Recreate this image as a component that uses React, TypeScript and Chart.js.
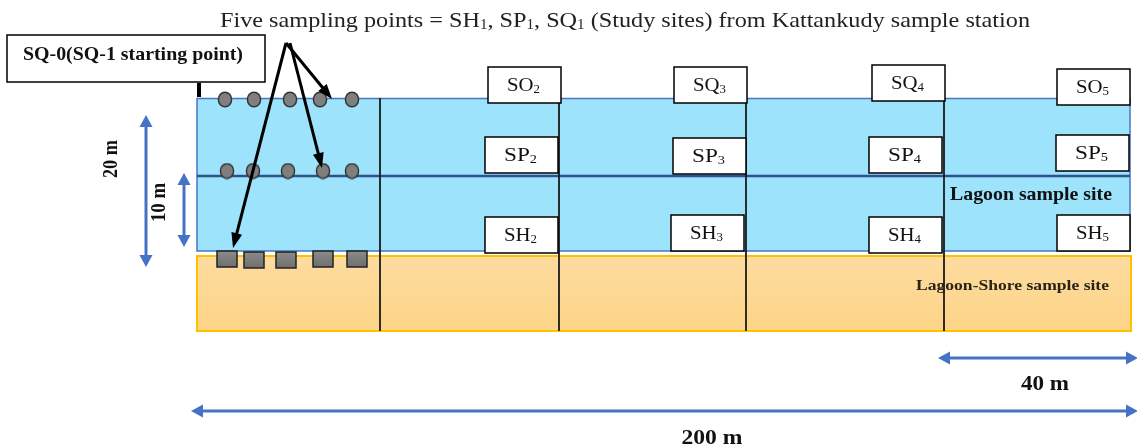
import React, { useEffect, useRef } from "react";
import { Chart, registerables } from "chart.js";

Chart.register(...registerables);

type Seg = [string, boolean];

// ---------- data ----------
const titleSegments: Seg[] = [
  ["Five sampling points = SH", false],
  ["1", true],
  [", SP", false],
  ["1", true],
  [", SQ", false],
  ["1", true],
  [" (Study sites) from Kattankudy sample station", false],
];
const startLabel = "SQ-0(SQ-1 starting point)";
const lagoonLabel = "Lagoon sample site";
const shoreLabel = "Lagoon-Shore sample site";
const dimensionLabels = ["20 m", "10 m", "40 m", "200 m"];

const stationNumbers = ["2", "3", "4", "5"];
const upperCodes = ["SO", "SQ", "SQ", "SO"];
const middleCodes = ["SP", "SP", "SP", "SP"];
const lowerCodes = ["SH", "SH", "SH", "SH"];

const upperBoxX = [488, 674, 872, 1057];
const upperBoxY = [67, 67, 65, 69];
const middleBoxX = [485, 673, 869, 1056];
const middleBoxY = [137, 138, 137, 135];
const lowerBoxX = [485, 671, 869, 1057];
const lowerBoxY = [217, 215, 217, 215];

const dividerX = [380, 559, 746, 944];
const dividerTop = [98, 102, 98, 101];

const surfacePointsX = [225, 254, 290, 320, 352];
const surfacePointsY = [99.5, 99.5, 99.5, 99.5, 99.5];
const midPointsX = [227, 253, 288, 323, 352];
const midPointsY = [171, 171, 171, 171, 171];
const shorePointsX = [227, 254, 286, 323, 357];
const shorePointsY = [259, 260, 260, 259, 259];

// pointer arrows: [fromX, fromY, toX, toY]
const pointerArrows = [
  [286, 43, 332, 99],
  [290, 43, 322, 168],
  [286, 43, 233, 248],
];
// dimension arrows: [x1, y1, x2, y2]
const dimensionArrows = [
  [146, 115, 146, 267],
  [184, 173, 184, 247],
  [938, 358, 1138, 358],
  [191, 411, 1138, 411],
];

const W = 1137;
const H = 448;
const SERIF = '"Liberation Serif", "Times New Roman", serif';

function richWidth(ctx: CanvasRenderingContext2D, segs: Seg[], size: number, weight: string) {
  let w = 0;
  for (const [t, sub] of segs) {
    ctx.font = `${weight} ${sub ? size * 0.62 : size}px ${SERIF}`;
    w += ctx.measureText(t).width;
  }
  return w;
}

function drawRich(
  ctx: CanvasRenderingContext2D,
  segs: Seg[],
  cx: number,
  by: number,
  size: number,
  weight: string,
  targetW?: number,
  rot = 0,
  color = "#111"
) {
  const total = richWidth(ctx, segs, size, weight);
  const sx = targetW ? targetW / total : 1;
  ctx.save();
  ctx.translate(cx, by);
  if (rot) ctx.rotate(rot);
  ctx.scale(sx, 1);
  ctx.fillStyle = color;
  ctx.textBaseline = "alphabetic";
  ctx.textAlign = "left";
  let x = -total / 2;
  for (const [t, sub] of segs) {
    ctx.font = `${weight} ${sub ? size * 0.62 : size}px ${SERIF}`;
    ctx.fillText(t, x, sub ? size * 0.1 : 0);
    x += ctx.measureText(t).width;
  }
  ctx.restore();
}

function head(
  ctx: CanvasRenderingContext2D,
  x1: number, y1: number, x2: number, y2: number,
  len: number, wid: number
) {
  const a = Math.atan2(y2 - y1, x2 - x1);
  const bx = x2 - len * Math.cos(a);
  const by = y2 - len * Math.sin(a);
  const nx = -Math.sin(a) * wid / 2;
  const ny = Math.cos(a) * wid / 2;
  ctx.beginPath();
  ctx.moveTo(x2, y2);
  ctx.lineTo(bx + nx, by + ny);
  ctx.lineTo(bx - nx, by - ny);
  ctx.closePath();
  ctx.fill();
}

function arrow(
  ctx: CanvasRenderingContext2D,
  x1: number, y1: number, x2: number, y2: number,
  color: string, lw: number, len: number, wid: number, both: boolean
) {
  const a = Math.atan2(y2 - y1, x2 - x1);
  const ex = x2 - (len - 2) * Math.cos(a);
  const ey = y2 - (len - 2) * Math.sin(a);
  const sx = both ? x1 + (len - 2) * Math.cos(a) : x1;
  const sy = both ? y1 + (len - 2) * Math.sin(a) : y1;
  ctx.save();
  ctx.strokeStyle = color;
  ctx.fillStyle = color;
  ctx.lineWidth = lw;
  ctx.lineCap = "butt";
  ctx.beginPath();
  ctx.moveTo(sx, sy);
  ctx.lineTo(ex, ey);
  ctx.stroke();
  head(ctx, x1, y1, x2, y2, len, wid);
  if (both) head(ctx, x2, y2, x1, y1, len, wid);
  ctx.restore();
}

function makeCircle() {
  const c = document.createElement("canvas");
  c.width = 16;
  c.height = 17;
  const g = c.getContext("2d")!;
  g.beginPath();
  g.ellipse(8, 8.5, 6.6, 7.3, 0, 0, Math.PI * 2);
  g.fillStyle = "#7f7f7f";
  g.fill();
  g.lineWidth = 1.4;
  g.strokeStyle = "#333";
  g.stroke();
  return c;
}

function makeSquare() {
  const c = document.createElement("canvas");
  c.width = 22;
  c.height = 18;
  const g = c.getContext("2d")!;
  const gr = g.createLinearGradient(0, 1, 0, 17);
  gr.addColorStop(0, "#8a8a8a");
  gr.addColorStop(1, "#6f6f6f");
  g.fillStyle = gr;
  g.fillRect(1, 1, 20, 16);
  g.lineWidth = 1.5;
  g.strokeStyle = "#222";
  g.strokeRect(1, 1, 20, 16);
  return c;
}

export default function App() {
  const ref = useRef<HTMLCanvasElement>(null);

  useEffect(() => {
    document.body.style.margin = "0";
    const canvas = ref.current!;

    const diagram = {
      id: "diagram",
      beforeDatasetsDraw(chart: any) {
        const ctx: CanvasRenderingContext2D = chart.ctx;
        const px = (v: number) => chart.scales.x.getPixelForValue(v);
        const py = (v: number) => chart.scales.y.getPixelForValue(v);
        ctx.save();
        // lagoon
        ctx.fillStyle = "#9de3fb";
        ctx.fillRect(px(197), py(98.5), px(1130) - px(197), py(251) - py(98.5));
        ctx.strokeStyle = "#4a76c4";
        ctx.lineWidth = 1.5;
        ctx.strokeRect(px(197), py(98.5), px(1130) - px(197), py(251) - py(98.5));
        // middle line
        ctx.strokeStyle = "#2f528f";
        ctx.lineWidth = 2.5;
        ctx.beginPath();
        ctx.moveTo(px(197), py(176));
        ctx.lineTo(px(1130), py(176));
        ctx.stroke();
        // shore
        const gr = ctx.createLinearGradient(0, py(256), 0, py(331));
        gr.addColorStop(0, "#fddca0");
        gr.addColorStop(1, "#fdd486");
        ctx.fillStyle = gr;
        ctx.fillRect(px(197), py(256), px(1131) - px(197), py(331) - py(256));
        ctx.strokeStyle = "#ffc000";
        ctx.lineWidth = 2;
        ctx.strokeRect(px(197), py(256), px(1131) - px(197), py(331) - py(256));
        // dividers
        ctx.strokeStyle = "#1a1a1a";
        ctx.lineWidth = 1.8;
        dividerX.forEach((x, i) => {
          ctx.beginPath();
          ctx.moveTo(px(x), py(dividerTop[i]));
          ctx.lineTo(px(x), py(331));
          ctx.stroke();
        });
        // start label box
        ctx.fillStyle = "#fff";
        ctx.fillRect(px(7), py(35), px(265) - px(7), py(82) - py(35));
        ctx.strokeStyle = "#000";
        ctx.lineWidth = 1.5;
        ctx.strokeRect(px(7), py(35), px(265) - px(7), py(82) - py(35));
        drawRich(ctx, [[startLabel, false]], px(133), py(60), 19, "bold", px(243) - px(23));
        // tick
        ctx.fillStyle = "#000";
        ctx.fillRect(px(197), py(83), px(201) - px(197), py(97) - py(83));
        ctx.restore();
      },
      afterDatasetsDraw(chart: any) {
        const ctx: CanvasRenderingContext2D = chart.ctx;
        const px = (v: number) => chart.scales.x.getPixelForValue(v);
        const py = (v: number) => chart.scales.y.getPixelForValue(v);
        ctx.save();
        const bw = 73;
        const bh = 36;
        const box = (x: number, y: number, code: string, num: string) => {
          ctx.fillStyle = "#fff";
          ctx.fillRect(px(x), py(y), px(x + bw) - px(x), py(y + bh) - py(y));
          ctx.strokeStyle = "#000";
          ctx.lineWidth = 1.5;
          ctx.strokeRect(px(x), py(y), px(x + bw) - px(x), py(y + bh) - py(y));
          drawRich(ctx, [[code, false], [num, true]], px(x + bw / 2 - 1), py(y + 24), 19, "normal", 33);
        };
        stationNumbers.forEach((n, i) => {
          box(upperBoxX[i], upperBoxY[i], upperCodes[i], n);
          box(middleBoxX[i], middleBoxY[i], middleCodes[i], n);
          box(lowerBoxX[i], lowerBoxY[i], lowerCodes[i], n);
        });
        // title
        drawRich(ctx, titleSegments, px(625), py(26.5), 22, "normal", px(1030) - px(220), 0, "#222");
        // site labels
        drawRich(ctx, [[lagoonLabel, false]], px(1031), py(200), 19, "bold", 162);
        drawRich(ctx, [[shoreLabel, false]], px(1012.5), py(289.5), 15, "bold", 193, 0, "#2a2418");
        // pointer arrows
        pointerArrows.forEach(([a, b, c, d]) => {
          arrow(ctx, px(a), py(b), px(c), py(d), "#000", 3, 15, 11, false);
        });
        // dimension arrows
        dimensionArrows.forEach(([a, b, c, d]) => {
          arrow(ctx, px(a), py(b), px(c), py(d), "#4472c4", 3, 12, 13, true);
        });
        // dimension labels
        drawRich(ctx, [[dimensionLabels[0], false]], px(116.5), py(159), 21, "bold", 38, -Math.PI / 2);
        drawRich(ctx, [[dimensionLabels[1], false]], px(165), py(202.5), 21, "bold", 39, -Math.PI / 2);
        drawRich(ctx, [[dimensionLabels[2], false]], px(1045), py(390), 21, "bold", 48);
        drawRich(ctx, [[dimensionLabels[3], false]], px(712), py(444), 21, "bold", 61);
        ctx.restore();
      },
    };

    const circle = makeCircle();
    const square = makeSquare();

    const chart = new Chart(canvas, {
      type: "scatter",
      data: {
        datasets: [
          {
            label: "Surface points",
            data: surfacePointsX.map((x, i) => ({ x, y: surfacePointsY[i] })),
            pointStyle: circle as any,
            pointRadius: 7,
          },
          {
            label: "Mid-depth points",
            data: midPointsX.map((x, i) => ({ x, y: midPointsY[i] })),
            pointStyle: circle as any,
            pointRadius: 7,
          },
          {
            label: "Shore points",
            data: shorePointsX.map((x, i) => ({ x, y: shorePointsY[i] })),
            pointStyle: square as any,
            pointRadius: 9,
          },
        ],
      },
      options: {
        responsive: false,
        animation: false,
        events: [],
        layout: { padding: 0, autoPadding: false },
        scales: {
          x: { type: "linear", display: false, min: 0, max: W },
          y: { type: "linear", display: false, min: 0, max: H, reverse: true },
        },
        plugins: { legend: { display: false }, tooltip: { enabled: false } },
      },
      plugins: [diagram],
    });
    return () => chart.destroy();
  }, []);

  return (
    <canvas ref={ref} width={W} height={H} style={{ display: "block", background: "#fff" }} />
  );
}
